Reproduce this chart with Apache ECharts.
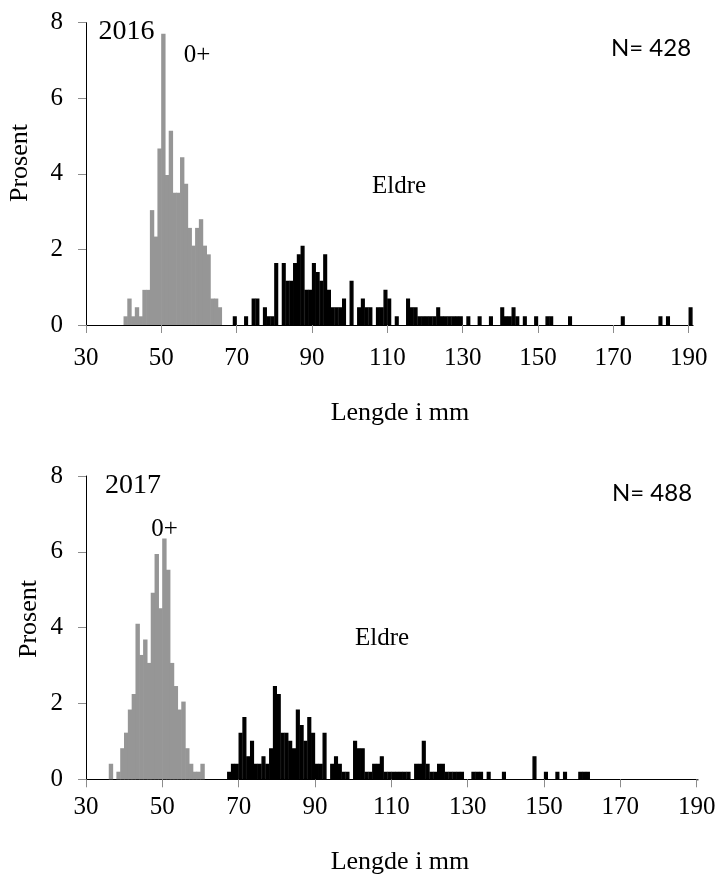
<!DOCTYPE html>
<html><head><meta charset="utf-8">
<script src="https://cdn.jsdelivr.net/npm/echarts@6/dist/echarts.min.js"></script>
<style>html,body{margin:0;padding:0;background:#fff}#c{width:723px;height:879px}</style>
</head><body><div id="c"></div>
<script>
// Axis ticks
const xTicks = [30, 50, 70, 90, 110, 130, 150, 170, 190];
const yTicks = [0, 2, 4, 6, 8];

// 2016 (N = 428) : length bin (mm) and percent
const len2016Young = [40,41,42,43,44,45,46,47,48,49,50,51,52,53,54,55,56,57,58,59,60,61,62,63,64,65];
const pct2016Young = [0.23,0.70,0.23,0.47,0.23,0.93,0.93,3.04,2.34,4.67,7.71,3.97,5.14,3.50,3.50,4.44,3.74,2.57,2.10,2.57,2.80,2.10,1.87,0.70,0.70,0.47];
const len2016Old = [69,72,74,75,77,78,79,80,82,83,84,85,86,87,88,89,90,91,92,93,94,95,96,97,98,100,102,103,104,105,107,108,109,110,112,115,116,117,118,119,120,121,122,123,124,125,126,127,128,129,131,134,137,140,141,142,143,144,146,149,152,153,158,172,182,184,190];
const pct2016Old = [0.23,0.23,0.70,0.70,0.47,0.23,0.23,1.64,1.64,1.17,1.17,1.64,1.87,2.10,0.93,0.93,1.64,1.40,1.17,1.87,0.93,0.47,0.47,0.47,0.70,1.17,0.47,0.70,0.47,0.47,0.47,0.47,0.93,0.70,0.23,0.70,0.47,0.47,0.23,0.23,0.23,0.23,0.23,0.47,0.23,0.23,0.23,0.23,0.23,0.23,0.23,0.23,0.23,0.47,0.23,0.23,0.47,0.23,0.23,0.23,0.23,0.23,0.23,0.23,0.23,0.23,0.47];

// 2017 (N = 488)
const len2017Young = [36,38,39,40,41,42,43,44,45,46,47,48,49,50,51,52,53,54,55,56,57,58,59,60];
const pct2017Young = [0.41,0.20,0.82,1.23,1.84,2.25,4.10,3.28,3.69,3.07,4.92,5.94,4.51,6.35,5.53,3.07,2.46,1.84,2.05,0.82,0.41,0.20,0.20,0.41];
const len2017Old = [67,68,69,70,71,72,73,74,75,76,77,78,79,80,81,82,83,84,85,86,87,88,89,90,91,92,94,95,96,97,98,100,101,102,103,104,105,106,107,108,109,110,111,112,113,114,116,117,118,119,120,121,122,123,124,125,126,127,128,131,132,133,135,139,147,150,153,155,159,160,161];
const pct2017Old = [0.20,0.41,0.41,1.23,1.64,0.61,1.02,0.41,0.41,0.61,0.41,0.82,2.46,2.25,1.23,1.23,1.02,0.82,1.84,1.43,1.02,1.64,1.23,0.41,0.41,1.23,0.41,0.61,0.41,0.20,0.20,1.02,0.82,0.82,0.20,0.20,0.41,0.41,0.61,0.20,0.20,0.20,0.20,0.20,0.20,0.20,0.41,0.41,1.02,0.41,0.20,0.20,0.41,0.41,0.20,0.20,0.20,0.20,0.20,0.20,0.20,0.20,0.20,0.20,0.61,0.20,0.20,0.20,0.20,0.20,0.20];

const serif = 'Liberation Serif';
const grids = [
  {left: 86, top: 22.7, width: 602.7, height: 302.3},
  {left: 86, top: 476, width: 610.7, height: 303.3}
];
const xMin = xTicks[0], xMax = xTicks[xTicks.length - 1];
const binW = grids.map(g => g.width / (xMax - xMin));

function pairs(lens, pcts) { return lens.map((l, i) => [l + 0.5, pcts[i]]); }

function xAxis(i, margin) {
  return {
    type: 'value', gridIndex: i, min: xMin, max: xMax, interval: xTicks[1] - xTicks[0],
    axisLine: {show: true, onZero: false, lineStyle: {color: '#000', width: 1}},
    axisTick: {show: true, length: 8, lineStyle: {color: '#8c8c8c'}},
    axisLabel: {margin: margin, color: '#000', fontFamily: serif, fontSize: 25, showMinLabel: true, showMaxLabel: true},
    splitLine: {show: false}
  };
}
function yAxis(i) {
  return {
    type: 'value', gridIndex: i, min: yTicks[0], max: yTicks[yTicks.length - 1], interval: yTicks[1] - yTicks[0],
    axisLine: {show: true, lineStyle: {color: '#000', width: 1}},
    axisTick: {show: true, length: 8, lineStyle: {color: '#8c8c8c'}},
    axisLabel: {margin: 23, color: '#000', fontFamily: serif, fontSize: 25},
    splitLine: {show: false}
  };
}
function youngSeries(i, lens, pcts) {
  return {type: 'bar', xAxisIndex: i, yAxisIndex: i, data: pairs(lens, pcts), barWidth: binW[i] + 0.6,
    barGap: '-100%', clip: false, silent: true, itemStyle: {color: '#969696'}};
}
function oldSeries(i, lens, pcts) {
  return {type: 'bar', xAxisIndex: i, yAxisIndex: i, data: pairs(lens, pcts), barWidth: binW[i] + 0.3,
    barGap: '-100%', clip: false, silent: true, itemStyle: {color: '#000', borderColor: '#000', borderWidth: 1.4}};
}
function txt(x, y, s, font, extra) {
  return Object.assign({type: 'text', x: x, y: y, silent: true,
    style: {text: s, font: font, fill: '#000', align: 'center', verticalAlign: 'middle'}}, extra || {});
}
const f25 = '25px "Liberation Serif"';
const f26 = '26px "Liberation Serif"';
const f28 = '28px "Liberation Serif"';
const fN = '24px Lato';

const chart = echarts.init(document.getElementById('c'), null, {renderer: 'canvas'});
chart.setOption({
  animation: false,
  backgroundColor: '#fff',
  grid: grids.map(g => Object.assign({containLabel: false}, g)),
  xAxis: [xAxis(0, 21), xAxis(1, 16)],
  yAxis: [yAxis(0), yAxis(1)],
  series: [
    youngSeries(0, len2016Young, pct2016Young),
    oldSeries(0, len2016Old, pct2016Old),
    youngSeries(1, len2017Young, pct2017Young),
    oldSeries(1, len2017Old, pct2017Old)
  ],
  graphic: [
    {type: 'line', silent: true, shape: {x1: 688.7, y1: 325.5, x2: 693.5, y2: 325.5}, style: {stroke: '#000', lineWidth: 1}},
    {type: 'line', silent: true, shape: {x1: 696.7, y1: 779.8, x2: 698.5, y2: 779.8}, style: {stroke: '#000', lineWidth: 1}},
    txt(126.5, 32, '2016', f28),
    txt(197, 55, '0+', f25),
    txt(399, 186, 'Eldre', f25),
    txt(651, 48, 'N= 428', fN),
    txt(20, 163, 'Prosent', f26, {rotation: Math.PI / 2}),
    txt(400, 413, 'Lengde i mm', f26),
    txt(133, 485.5, '2017', f28),
    txt(164.5, 529.5, '0+', f25),
    txt(382, 638, 'Eldre', f25),
    txt(652, 493, 'N= 488', fN),
    txt(29, 619, 'Prosent', f26, {rotation: Math.PI / 2}),
    txt(400, 862, 'Lengde i mm', f26)
  ]
});
</script></body></html>
